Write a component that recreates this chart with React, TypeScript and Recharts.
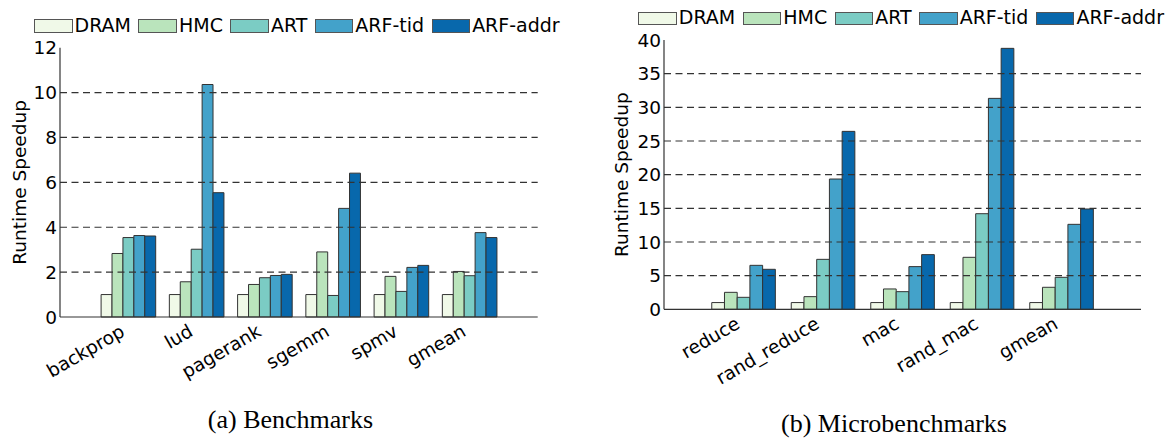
import React from 'react';
import { BarChart, Bar, XAxis, YAxis, ReferenceLine, Legend } from 'recharts';

const seriesNames = ['DRAM', 'HMC', 'ART', 'ARF-tid', 'ARF-addr'];
const seriesKeys = ['dram', 'hmc', 'art', 'tid', 'addr'];
const seriesColors = ['#f0f9e8', '#bae4bc', '#7bccc4', '#43a2ca', '#0868ac'];

const benchCategories = ['backprop', 'lud', 'pagerank', 'sgemm', 'spmv', 'gmean'];
const benchDRAM = [1, 1, 1, 1, 1, 1];
const benchHMC = [2.83, 1.57, 1.45, 2.9, 1.81, 2.03];
const benchART = [3.54, 3.02, 1.75, 0.96, 1.14, 1.84];
const benchTid = [3.63, 10.36, 1.85, 4.84, 2.21, 3.76];
const benchAddr = [3.61, 5.54, 1.9, 6.41, 2.3, 3.54];
const benchTicks = [0, 2, 4, 6, 8, 10, 12];

const microCategories = ['reduce', 'rand_reduce', 'mac', 'rand_mac', 'gmean'];
const microDRAM = [1, 1, 1, 1, 1];
const microHMC = [2.52, 1.88, 3.02, 7.72, 3.27];
const microART = [1.78, 7.42, 2.62, 14.2, 4.75];
const microTid = [6.53, 19.35, 6.34, 31.33, 12.62];
const microAddr = [5.94, 26.43, 8.12, 38.76, 14.9];
const microTicks = [0, 5, 10, 15, 20, 25, 30, 35, 40];

const yLabel = 'Runtime Speedup';
const captionA = '(a) Benchmarks';
const captionB = '(b) Microbenchmarks';

const FONT = 'DejaVu Sans';
const FRAME = '#333';
const FS = 18.5;

function buildRows(categories: string[], series: number[][]) {
  return categories.map((c, i) => {
    const row: any = { name: c };
    seriesKeys.forEach((k, j) => {
      row[k] = series[j][i];
    });
    return row;
  });
}

const benchRows = buildRows(benchCategories, [benchDRAM, benchHMC, benchART, benchTid, benchAddr]);
const microRows = buildRows(microCategories, [microDRAM, microHMC, microART, microTid, microAddr]);

const XTick = (props: any) => {
  const { x, y, payload } = props;
  const ax = x - 2.3;
  const ay = y + 16;
  return (
    <text
      x={ax}
      y={ay}
      transform={`rotate(-30, ${ax}, ${ay})`}
      textAnchor="end"
      fontFamily={FONT}
      fontSize={FS}
      fill="#000"
    >
      {payload.value}
    </text>
  );
};

const LegendContent = () => (
  <div style={{ display: 'flex', flexDirection: 'row', alignItems: 'center', whiteSpace: 'nowrap', height: 19 }}>
    {seriesNames.map((n, i) => (
      <div key={n} style={{ display: 'flex', alignItems: 'center', marginRight: 7.5 }}>
        <div
          style={{
            width: 38.5,
            height: 13.4,
            boxSizing: 'border-box',
            background: seriesColors[i],
            border: '1px solid #555',
            marginRight: 2,
            position: 'relative',
            top: 1,
          }}
        />
        <span style={{ fontFamily: FONT, fontSize: FS + 0.5, lineHeight: '19px', color: '#000' }}>{n}</span>
      </div>
    ))}
  </div>
);

type ChartProps = {
  data: any[];
  ticks: number[];
  yMax: number;
  left: number;
  width: number;
  height: number;
  marginTop: number;
  marginRight: number;
  yAxisWidth: number;
  xAxisHeight: number;
  pad: number;
  barSize: number;
  legendLeft: number;
  legendTop: number;
  yLabelOffset: number;
};

const GroupChart = (p: ChartProps) => (
  <div style={{ position: 'absolute', left: p.left, top: 0, width: p.width, height: p.height }}>
    <BarChart
      width={p.width}
      height={p.height}
      data={p.data}
      margin={{ top: p.marginTop, right: p.marginRight, left: 0, bottom: 0 }}
      barGap={0}
      barSize={p.barSize}
    >
      <XAxis
        dataKey="name"
        xAxisId="b"
        height={p.xAxisHeight}
        padding={{ left: p.pad, right: p.pad }}
        tickLine={false}
        tickSize={0}
        interval={0}
        axisLine={{ stroke: FRAME, strokeWidth: 1.2 }}
        tick={<XTick />}
      />
      <XAxis
        dataKey="name"
        xAxisId="t"
        orientation="top"
        height={0}
        padding={{ left: p.pad, right: p.pad }}
        tick={false}
        tickLine={false}
        axisLine={{ stroke: FRAME, strokeWidth: 1.2 }}
      />
      <YAxis
        yAxisId="l"
        type="number"
        domain={[0, p.yMax]}
        ticks={p.ticks}
        interval={0}
        width={p.yAxisWidth}
        tickLine={false}
        tickSize={0}
        tickMargin={3}
        axisLine={{ stroke: FRAME, strokeWidth: 1.2 }}
        tick={{ fontFamily: FONT, fontSize: FS, fill: '#000' }}
        label={{
          value: yLabel,
          angle: -90,
          position: 'insideLeft',
          offset: p.yLabelOffset,
          style: { textAnchor: 'middle', fontFamily: FONT, fontSize: FS, fill: '#000' },
        }}
      />
      <YAxis
        yAxisId="r"
        orientation="right"
        type="number"
        domain={[0, p.yMax]}
        width={0}
        tick={false}
        tickLine={false}
        axisLine={{ stroke: FRAME, strokeWidth: 1.2 }}
      />
      {seriesKeys.map((k, i) => (
        <Bar
          key={k}
          dataKey={k}
          name={seriesNames[i]}
          fill={seriesColors[i]}
          stroke="#333"
          strokeWidth={1}
          xAxisId="b"
          yAxisId="l"
          isAnimationActive={false}
        />
      ))}
      {p.ticks.slice(1, -1).map((t) => (
        <ReferenceLine
          key={t}
          y={t}
          xAxisId="b"
          yAxisId="l"
          stroke="#333"
          strokeWidth={1.2}
          strokeDasharray="7 4.5"
        />
      ))}
      <Legend
        layout="horizontal"
        verticalAlign="middle"
        align="center"
        wrapperStyle={{ top: p.legendTop, left: p.legendLeft, width: 640, height: 19 }}
        content={() => <LegendContent />}
      />
    </BarChart>
  </div>
);

export default function App() {
  return (
    <div style={{ position: 'absolute', left: 0, top: 0, width: 1171, height: 440, background: '#fff', overflow: 'hidden' }}>
      <GroupChart
        data={benchRows}
        ticks={benchTicks}
        yMax={12}
        left={0}
        width={560}
        height={400}
        marginTop={47.7}
        marginRight={22.3}
        yAxisWidth={60}
        xAxisHeight={83}
        pad={34.1}
        barSize={10.92}
        legendLeft={34}
        legendTop={15.5}
        yLabelOffset={19}
      />
      <GroupChart
        data={microRows}
        ticks={microTicks}
        yMax={40}
        left={590}
        width={581}
        height={400}
        marginTop={40}
        marginRight={30}
        yAxisWidth={74}
        xAxisHeight={90.7}
        pad={39.75}
        barSize={12.72}
        legendLeft={48.3}
        legendTop={8}
        yLabelOffset={31}
      />
      <svg width={1171} height={440} style={{ position: 'absolute', left: 0, top: 0, pointerEvents: 'none' }}>
        <text x={290.5} y={428} textAnchor="middle" fontFamily="Liberation Serif" fontSize={26} fill="#000">
          {captionA}
        </text>
        <text x={894} y={432} textAnchor="middle" fontFamily="Liberation Serif" fontSize={26} fill="#000">
          {captionB}
        </text>
      </svg>
    </div>
  );
}
